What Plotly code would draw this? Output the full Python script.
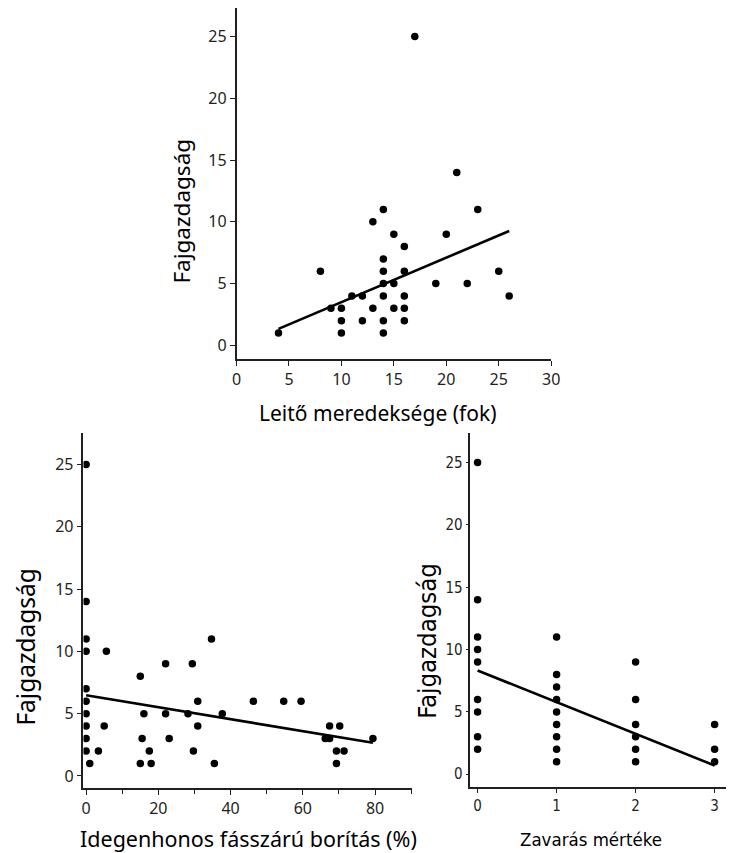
import plotly.graph_objects as go

W, H = 739, 853

# ---- Data: top panel (slope of the ditch side vs species richness)
slope_deg = [4, 8, 9, 10, 10, 10, 11, 12, 12, 13, 13, 14, 14, 14, 14, 14, 14, 14,
             15, 15, 15, 16, 16, 16, 16, 16, 17, 19, 20, 21, 22, 23, 25, 26]
rich_top = [1, 6, 3, 3, 2, 1, 4, 4, 2, 10, 3, 11, 7, 6, 5, 4, 2, 1,
            9, 5, 3, 8, 6, 4, 3, 2, 25, 5, 9, 14, 5, 11, 6, 4]
fit_top = {"intercept": -0.1, "slope": 0.36}

# ---- Data: bottom-left panel (alien woody cover vs species richness)
alien_cover = [0, 0, 0, 0, 0, 0, 0, 0, 0, 0, 1, 3.4, 5, 5.6, 15, 15, 15.5, 16, 17.5, 18,
               22, 22, 23, 28.2, 29.4, 29.7, 30.9, 30.9, 34.7, 35.5, 37.7, 46.3, 54.7, 59.5,
               66.2, 67.4, 67.4, 69.3, 69.3, 70.2, 71.4, 79.4]
rich_bl = [25, 14, 11, 10, 7, 6, 5, 4, 3, 2, 1, 2, 4, 10, 8, 1, 3, 5, 2, 1,
           9, 5, 3, 5, 9, 2, 6, 4, 11, 1, 5, 6, 6, 6,
           3, 3, 4, 2, 1, 4, 2, 3]
fit_bl = {"intercept": 6.47, "slope": -0.0479}

# ---- Data: bottom-right panel (disturbance level vs species richness)
disturbance = [0, 0, 0, 0, 0, 0, 0, 0, 0,
               1, 1, 1, 1, 1, 1, 1, 1, 1,
               2, 2, 2, 2, 2, 2,
               3, 3, 3]
rich_br = [25, 14, 11, 10, 9, 6, 5, 3, 2,
           11, 8, 7, 6, 5, 4, 3, 2, 1,
           9, 6, 4, 3, 2, 1,
           4, 2, 1]
fit_br = {"intercept": 8.32, "slope": -2.54}

y_title = "Fajgazdagság"
x_title_top = "Leitő meredeksége (fok)"
x_title_bl = "Idegenhonos fásszárú borítás (%)"
x_title_br = "Zavarás mértéke"

INK = "#231f20"
FONT_A = "Noto Sans, Open Sans, sans-serif"
FONT_B = "DejaVu Sans Condensed, Liberation Sans Narrow, sans-serif"


def px_x(p):
    return p / W


def px_y(p):
    return 1 - p / H


def fit_line(xs, fit):
    x0, x1 = min(xs), max(xs)
    return [x0, x1], [fit["intercept"] + fit["slope"] * x0, fit["intercept"] + fit["slope"] * x1]


fig = go.Figure()

panels = [
    (slope_deg, rich_top, fit_top, "x", "y"),
    (alien_cover, rich_bl, fit_bl, "x2", "y2"),
    (disturbance, rich_br, fit_br, "x3", "y3"),
]
for xs, ys, fit, xa, ya in panels:
    lx, ly = fit_line(xs, fit)
    fig.add_trace(go.Scatter(x=lx, y=ly, mode="lines", xaxis=xa, yaxis=ya,
                             line=dict(color="black", width=2.6), hoverinfo="skip"))
    fig.add_trace(go.Scatter(x=xs, y=ys, mode="markers", xaxis=xa, yaxis=ya,
                             marker=dict(color="black", size=7.5, line=dict(width=0))))

common = dict(showline=True, linecolor=INK, linewidth=1.5, ticks="outside",
              tickcolor=INK, tickwidth=1.2, showgrid=False, zeroline=False,
              mirror=False, fixedrange=True)

fig.update_layout(
    width=W, height=H,
    margin=dict(l=0, r=0, t=0, b=0),
    paper_bgcolor="white", plot_bgcolor="white",
    showlegend=False,
    xaxis=dict(domain=[px_x(236), px_x(556.7)], range=[0, 30], tick0=0, dtick=5,
               anchor="y", ticklen=5,
               tickfont=dict(family=FONT_A, size=16, color=INK), **common),
    yaxis=dict(domain=[px_y(359), px_y(8)], range=[-1.1, 27.3], tick0=0, dtick=5,
               anchor="x", ticklen=5,
               tickfont=dict(family=FONT_A, size=16, color=INK), **common),
    xaxis2=dict(domain=[px_x(80), px_x(415)], range=[-0.73, 90.25], tick0=0, dtick=20,
                anchor="y2", ticklen=5,
                minor=dict(tick0=0, dtick=10, ticks="outside", ticklen=4, tickcolor=INK, tickwidth=1.2),
                tickfont=dict(family=FONT_A, size=16, color=INK), **common),
    yaxis2=dict(domain=[px_y(788.3), px_y(433.3)], range=[-0.99, 27.5], tick0=0, dtick=5,
                anchor="x2", ticklen=5,
                tickfont=dict(family=FONT_A, size=16, color=INK), **common),
    xaxis3=dict(domain=[px_x(474.3), px_x(735)], range=[-0.092, 3.145], tick0=0, dtick=1,
                anchor="y3", ticklen=5,
                tickfont=dict(family=FONT_B, size=15, color=INK), **common),
    yaxis3=dict(domain=[px_y(786.7), px_y(432.7)], range=[-1.0, 27.4], tick0=0, dtick=5,
                anchor="x3", ticklen=3,
                tickfont=dict(family=FONT_B, size=15, color=INK), **common),
)

titles = [
    (x_title_top, 380, 413, 0, FONT_A, 21),
    (y_title, 180, 211, -90, FONT_A, 22.5),
    (x_title_bl, 248, 838, 0, FONT_A, 21.5),
    (y_title, 20, 647, -90, FONT_A, 24.5),
    (x_title_br, 597, 839, 0, FONT_B, 18.5),
    (y_title, 430, 641, -90, FONT_B, 25.5),
]
for text, cx, cy, ang, fam, sz in titles:
    fig.add_annotation(text=text, x=px_x(cx), y=px_y(cy), xref="paper", yref="paper",
                       xanchor="center", yanchor="middle", showarrow=False, textangle=ang,
                       font=dict(family=fam, size=sz, color="black"))

fig.write_html("out.html",
               config={"displayModeBar": False},
               post_script="document.body.style.margin='0px';document.body.style.overflow='hidden';")
